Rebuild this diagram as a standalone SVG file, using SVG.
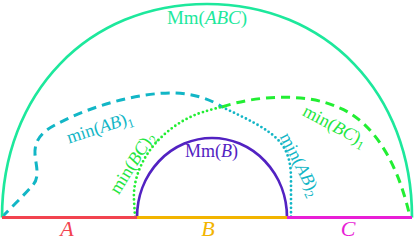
<svg xmlns="http://www.w3.org/2000/svg" width="415" height="241" viewBox="0 0 415 241">
<style>
  text { font-family: "Liberation Serif", "Times New Roman", serif; }
  .lbl { font-size: 18px; }
  .big { font-size: 22px; font-style: italic; }
  .it { font-style: italic; }
  .sub { font-size: 12.5px; }
  .dash { fill: none; stroke-width: 3; stroke-dasharray: 9 6; }
  .dot { fill: none; stroke-width: 2.8; stroke-dasharray: 0 4.4; stroke-linecap: round; }
  .solid { fill: none; stroke-width: 2.7; }
</style>
<rect width="415" height="241" fill="#ffffff"/>
<g id="connectors">
  <path id="mAB1" class="dash" stroke="#12b6c6" d="M2,217 C12,207 24,195 33,185 C40,177 36,165 35,155 C34,140 42,132 55,125 C90,106 140,92 175,93 C195,94 210,99 222,107"/>
  <path id="mAB2" class="dot" stroke="#12b6c6" d="M222,107 C245,118 268,128 280,142 C289,153 291,165 291,180 L291,217"/>
  <path id="mBC2" class="dot" stroke="#22ee33" d="M135,217 L134,200 C133,185 138,168 148,153 C160,135 180,120 200,113 C210,110 216,108 222,107"/>
  <path id="mBC1" class="dash" stroke="#22ee33" d="M222,107 C260,94 310,94 337,107 C365,117 395,150 410,217"/>
</g>
<g id="MmABC">
  <path class="solid" stroke="#1de89c" d="M2,217.5 C2,93 88,4 207,4 C326,4 412,93 412,217.5"/>
  <text class="lbl" x="207" y="24" text-anchor="middle" fill="#1de89c" style="font-size:19px">Mm(<tspan class="it">ABC</tspan>)</text>
</g>
<g id="MmB">
  <path class="solid" stroke="#5222c2" d="M137,217.5 A75,79.5 0 0 1 287,217.5"/>
  <text class="lbl" x="211.5" y="157" text-anchor="middle" fill="#5222c2">Mm(<tspan class="it">B</tspan>)</text>
</g>
<g id="segA">
  <line x1="2" y1="217.5" x2="137" y2="217.5" stroke="#f2434f" stroke-width="3"/>
  <text class="big" x="67" y="236" text-anchor="middle" fill="#f2434f">A</text>
</g>
<g id="segB">
  <line x1="137" y1="217.5" x2="287" y2="217.5" stroke="#f2b400" stroke-width="3"/>
  <text class="big" x="208" y="236" text-anchor="middle" fill="#f2b400">B</text>
</g>
<g id="segC">
  <line x1="287" y1="217.5" x2="412" y2="217.5" stroke="#e81ed6" stroke-width="3"/>
  <text class="big" x="348" y="236" text-anchor="middle" fill="#e81ed6">C</text>
</g>
<g id="labels">
  <text class="lbl" fill="#12b6c6" text-anchor="middle" transform="translate(101.5,133) rotate(-18)">min(<tspan class="it">AB</tspan>)<tspan class="sub" dy="4">1</tspan></text>
  <text class="lbl" fill="#22e640" text-anchor="middle" transform="translate(137,166) rotate(-58)">min(<tspan class="it">BC</tspan>)<tspan class="sub" dy="4">2</tspan></text>
  <text class="lbl" fill="#22e640" text-anchor="middle" transform="translate(332,131) rotate(28)">min(<tspan class="it">BC</tspan>)<tspan class="sub" dy="4">1</tspan></text>
  <text class="lbl" fill="#12b6c6" text-anchor="middle" transform="translate(295,167) rotate(63)">min(<tspan class="it">AB</tspan>)<tspan class="sub" dy="4">2</tspan></text>
</g>
</svg>
